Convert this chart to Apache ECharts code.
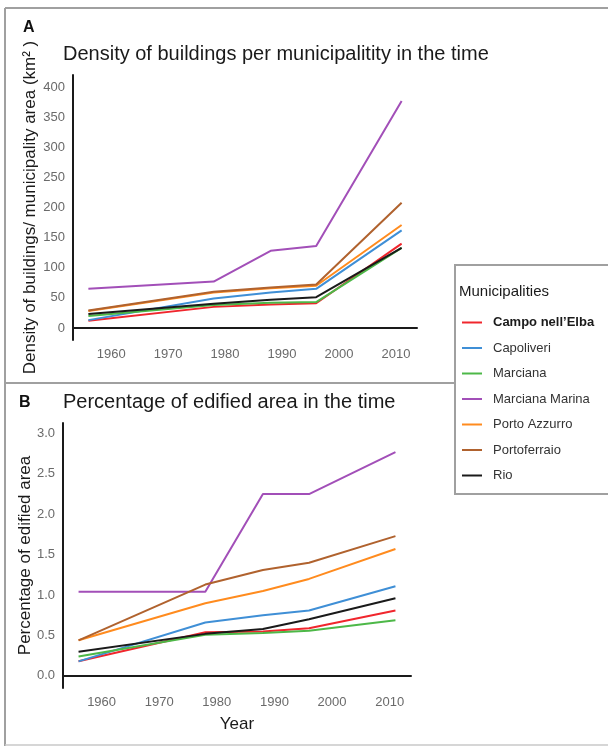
<!DOCTYPE html>
<html>
<head>
<meta charset="utf-8">
<script src="https://cdn.jsdelivr.net/npm/echarts@6/dist/echarts.min.js"></script>
<style>
  html, body { margin: 0; padding: 0; background: #fff; }
  #chart { width: 608px; height: 746px; }
</style>
</head>
<body>
<div id="chart"></div>
<script>
// Survey years
const years = [1956, 1978, 1988, 1996, 2011];

const municipalities = ['Campo nell\u2019Elba', 'Capoliveri', 'Marciana', 'Marciana Marina', 'Porto Azzurro', 'Portoferraio', 'Rio'];
const colors = ['#f0262d', '#3f8fd6', '#4db848', '#a24fb8', '#ff8b1e', '#b0622e', '#1a1a1a'];

// Density of buildings per km² of municipal area
const densityCampo = [12, 35, 39, 41, 140];
const densityCapoliveri = [13, 49, 59, 65, 162];
const densityMarciana = [20, 38, 42, 43, 133];
const densityMarcianaMarina = [65, 77, 128, 136, 377];
const densityPortoAzzurro = [28, 59, 66, 70, 171];
const densityPortoferraio = [29, 60, 67, 72, 208];
const densityRio = [23, 40, 47, 51, 133];

// Percentage of edified area
const pctCampo = [0.18, 0.54, 0.55, 0.59, 0.81];
const pctCapoliveri = [0.18, 0.66, 0.75, 0.81, 1.11];
const pctMarciana = [0.24, 0.51, 0.53, 0.56, 0.69];
const pctMarcianaMarina = [1.04, 1.04, 2.25, 2.25, 2.77];
const pctPortoAzzurro = [0.44, 0.90, 1.05, 1.20, 1.57];
const pctPortoferraio = [0.44, 1.13, 1.31, 1.40, 1.73];
const pctRio = [0.30, 0.52, 0.58, 0.70, 0.96];

// Tick labels
const yearTicks = [1960, 1970, 1980, 1990, 2000, 2010];
const densityTicks = [0, 50, 100, 150, 200, 250, 300, 350, 400];
const pctTicks = [0, 0.5, 1.0, 1.5, 2.0, 2.5, 3.0];

const densitySets = [densityCampo, densityCapoliveri, densityMarciana, densityMarcianaMarina, densityPortoAzzurro, densityPortoferraio, densityRio];
const pctSets = [pctCampo, pctCapoliveri, pctMarciana, pctMarcianaMarina, pctPortoAzzurro, pctPortoferraio, pctRio];

const FONT = 'Liberation Sans, Arial, sans-serif';
const BORDER = '#a0a0a0';

function pairs(vals) { return years.map((y, i) => [y, vals[i]]); }

function xAxisFor(gridIndex, extra) {
  return Object.assign({
    type: 'value', gridIndex: gridIndex, min: 1953.3, max: 2013.7,
    splitLine: { show: false },
    axisLine: { show: true, lineStyle: { color: '#1a1a1a', width: 2 } },
    axisTick: { show: false },
    axisLabel: {
      customValues: yearTicks, color: '#6a6a6a', fontSize: 13, fontFamily: FONT, margin: 8,
      formatter: v => String(Math.round(v))
    }
  }, extra || {});
}

const series = [];
municipalities.forEach((name, i) => {
  series.push({
    name: name, type: 'line', xAxisIndex: 0, yAxisIndex: 0,
    data: pairs(densitySets[i]), showSymbol: false, symbol: 'none',
    lineStyle: { color: colors[i], width: 2 }, itemStyle: { color: colors[i] }
  });
});
municipalities.forEach((name, i) => {
  series.push({
    name: name, type: 'line', xAxisIndex: 1, yAxisIndex: 1,
    data: pairs(pctSets[i]), showSymbol: false, symbol: 'none',
    lineStyle: { color: colors[i], width: 2 }, itemStyle: { color: colors[i] }
  });
});

const chart = echarts.init(document.getElementById('chart'), null, { renderer: 'canvas' });
chart.setOption({
  animation: false,
  backgroundColor: '#fff',
  textStyle: { fontFamily: FONT },
  grid: [
    { left: 73, right: 191, top: 75, bottom: 406, containLabel: false },
    { left: 63, right: 197, top: 423, bottom: 58, containLabel: false }
  ],
  xAxis: [
    xAxisFor(0),
    xAxisFor(1, {
      name: 'Year', nameLocation: 'middle', nameGap: 28, nameMoveOverlap: false,
      nameTextStyle: { color: '#1a1a1a', fontSize: 17, fontFamily: FONT }
    })
  ],
  yAxis: [
    {
      type: 'value', gridIndex: 0, min: -20, max: 420,
      splitLine: { show: false },
      axisLine: { show: true, lineStyle: { color: '#1a1a1a', width: 2 } },
      axisTick: { show: false },
      axisLabel: { customValues: densityTicks, color: '#6a6a6a', fontSize: 13, fontFamily: FONT, margin: 8 },
      name: 'Density of buildings/ municipality area (km\u00B2 )',
      nameLocation: 'middle', nameGap: 34, nameMoveOverlap: false,
      nameTextStyle: { color: '#1a1a1a', fontSize: 17, fontFamily: FONT }
    },
    {
      type: 'value', gridIndex: 1, min: -0.15, max: 3.13,
      splitLine: { show: false },
      axisLine: { show: true, lineStyle: { color: '#1a1a1a', width: 2 } },
      axisTick: { show: false },
      axisLabel: {
        customValues: pctTicks, color: '#6a6a6a', fontSize: 13, fontFamily: FONT, margin: 8,
        formatter: v => Number(v).toFixed(1)
      },
      name: 'Percentage of edified area',
      nameLocation: 'middle', nameGap: 29, nameMoveOverlap: false,
      nameTextStyle: { color: '#1a1a1a', fontSize: 17, fontFamily: FONT }
    }
  ],
  legend: {
    orient: 'vertical', left: 457, top: 310,
    itemWidth: 20, itemHeight: 2, itemGap: 10.5,
    icon: 'rect',
    textStyle: { color: '#333', fontSize: 13, fontFamily: FONT, padding: [0, 0, 0, 6], lineHeight: 15 },
    data: municipalities.map((n, i) => i === 0
      ? { name: n, textStyle: { fontWeight: 'bold', color: '#1a1a1a' } }
      : { name: n })
  },
  graphic: [
    // outer frame and panel separators
    { type: 'line', shape: { x1: 5, y1: 8, x2: 608, y2: 8 }, style: { stroke: BORDER, lineWidth: 2 } },
    { type: 'line', shape: { x1: 5, y1: 8, x2: 5, y2: 746 }, style: { stroke: BORDER, lineWidth: 2 } },
    { type: 'line', shape: { x1: 5, y1: 745, x2: 608, y2: 745 }, style: { stroke: '#c8c8c8', lineWidth: 1.5 } },
    { type: 'line', shape: { x1: 5, y1: 383, x2: 455, y2: 383 }, style: { stroke: BORDER, lineWidth: 2 } },
    // legend box
    { type: 'rect', shape: { x: 455, y: 265, width: 160, height: 229 }, style: { fill: '#fff', stroke: BORDER, lineWidth: 2 }, z: -1 },
    { type: 'text', left: 459, top: 284, style: { text: 'Municipalities', font: '15px ' + FONT, fill: '#1a1a1a' } },
    // panel letters and titles
    { type: 'text', left: 23, top: 20, style: { text: 'A', font: 'bold 16px ' + FONT, fill: '#111' } },
    { type: 'text', left: 63, top: 44, style: { text: 'Density of buildings per municipalitity in the time', font: '20px ' + FONT, fill: '#1a1a1a' } },
    { type: 'text', left: 19, top: 395, style: { text: 'B', font: 'bold 16px ' + FONT, fill: '#111' } },
    { type: 'text', left: 63, top: 392, style: { text: 'Percentage of edified area in the time', font: '20px ' + FONT, fill: '#1a1a1a' } }
  ],
  series: series
});
</script>
</body>
</html>
